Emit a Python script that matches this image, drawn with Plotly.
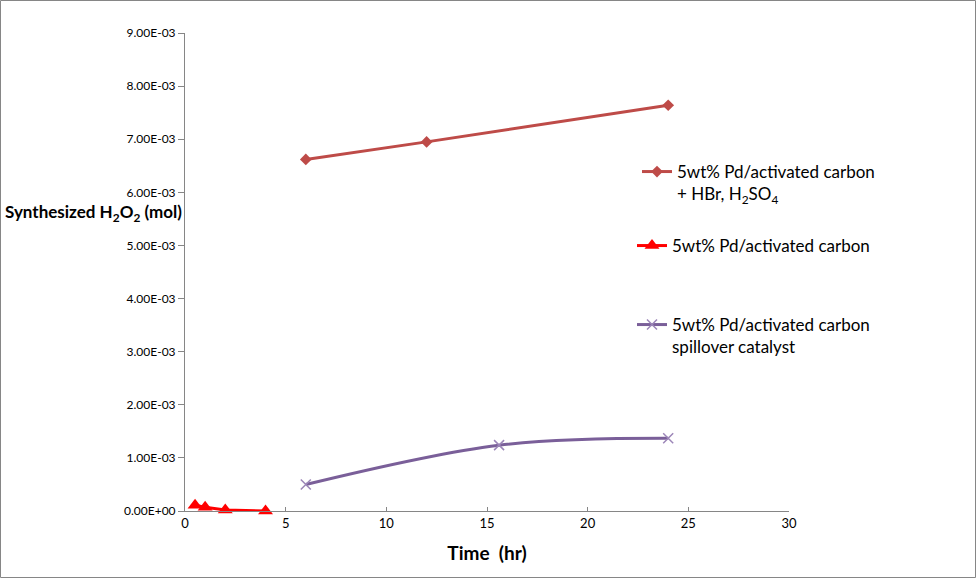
import plotly.graph_objects as go

# Data
x_hbr = [6, 12, 24]
y_hbr = [6.62e-3, 6.95e-3, 7.64e-3]

x_pd = [0.5, 1, 2, 4]
y_pd = [1.1e-4, 7e-5, 2e-5, 0.0]

x_spill = [6, 15.6, 24]
y_spill = [0.50e-3, 1.24e-3, 1.37e-3]

y_tickvals = [i * 1e-3 for i in range(10)]
y_ticktext = [f"{v:.2E}" for v in y_tickvals]
x_tickvals = [0, 5, 10, 15, 20, 25, 30]

FONT = "Lato"

fig = go.Figure()
fig.add_trace(go.Scatter(
    x=x_hbr, y=y_hbr, mode="lines+markers",
    name="5wt% Pd/activated carbon<br>+ HBr, H<sub>2</sub>SO<sub>4</sub>",
    line=dict(color="#BE4B48", width=3),
    marker=dict(symbol="diamond", size=9, color="#BE4B48"),
    legend="legend", cliponaxis=False,
))
fig.add_trace(go.Scatter(
    x=x_pd, y=y_pd, mode="lines+markers",
    name="5wt% Pd/activated carbon",
    line=dict(color="#FF0000", width=3),
    marker=dict(symbol="triangle-up", size=13, color="#FF0000"),
    legend="legend2", cliponaxis=False,
))
fig.add_trace(go.Scatter(
    x=x_spill, y=y_spill, mode="lines+markers",
    name="5wt% Pd/activated carbon<br>spillover catalyst",
    line=dict(color="#7A5F99", width=3, shape="spline"),
    marker=dict(symbol="x-thin", size=10, color="#9C86B8",
                line=dict(color="#9C86B8", width=1.5)),
    legend="legend3", cliponaxis=False,
))

L, R, T, B = 185, 188, 33, 68
W, H = 977, 579
pw, ph = W - L - R, H - T - B

legend_common = dict(
    font=dict(family=FONT, size=17, color="#000000"),
    bgcolor="rgba(0,0,0,0)", xanchor="left", yanchor="top",
    itemwidth=30, valign="top",
)

fig.update_layout(
    width=W, height=H,
    margin=dict(l=L, r=R, t=T, b=B),
    paper_bgcolor="white", plot_bgcolor="white",
    font=dict(family=FONT, color="#000000"),
    showlegend=True,
    legend=dict(**legend_common, x=(637 - L) / pw, y=(511 - 154) / ph),
    legend2=dict(**legend_common, x=(632 - L) / pw, y=(511 - 228) / ph),
    legend3=dict(**legend_common, x=(632 - L) / pw, y=(511 - 307) / ph),
    xaxis=dict(
        range=[0, 30], tickvals=x_tickvals, ticks="inside", ticklen=4,
        tickcolor="#868686", showline=True, linecolor="#868686", linewidth=1,
        showgrid=False, zeroline=False,
        tickfont=dict(family=FONT, size=13, color="#000000"),
        title=dict(text="<b>Time  (hr)</b>", font=dict(family=FONT, size=19), standoff=17),
    ),
    yaxis=dict(
        range=[0, 9e-3], tickvals=y_tickvals, ticktext=y_ticktext,
        ticks="outside", ticklen=6, tickcolor="#868686",
        showline=True, linecolor="#868686", linewidth=1,
        showgrid=False, zeroline=False,
        tickfont=dict(family=FONT, size=12, color="#000000"),
    ),
    annotations=[dict(
        text="<b>Synthesized H<sub>2</sub>O<sub>2</sub> (mol)</b>",
        xref="paper", yref="paper", x=-1 / pw, y=(511 - 213) / ph,
        xanchor="right", yanchor="middle", showarrow=False,
        font=dict(family=FONT, size=17, color="#000000"),
    )],
    shapes=[dict(
        type="rect", xref="paper", yref="paper",
        x0=-(L - 0.5) / pw, x1=1 + (R - 1.5) / pw,
        y0=-(B - 1.5) / ph, y1=1 + (T - 0.5) / ph,
        line=dict(color="#868686", width=1), layer="below",
    )],
)

fig.write_html(
    "out.html",
    config={"displayModeBar": False},
    post_script="document.body.style.margin='0';document.body.style.overflow='hidden';",
)
